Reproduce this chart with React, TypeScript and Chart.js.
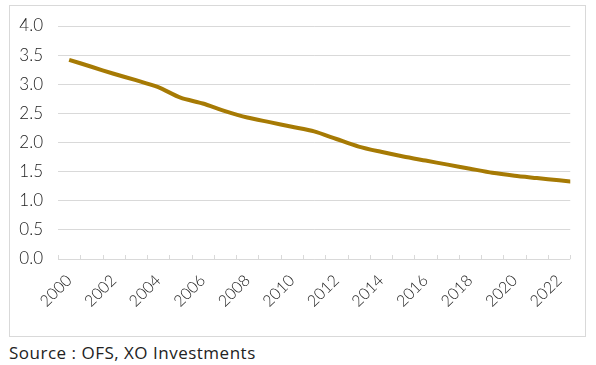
import React, { useEffect, useRef } from "react";
import { Chart, registerables } from "chart.js";

Chart.register(...registerables);

const years = [2000, 2001, 2002, 2003, 2004, 2005, 2006, 2007, 2008, 2009, 2010, 2011, 2012, 2013, 2014, 2015, 2016, 2017, 2018, 2019, 2020, 2021, 2022, 2023];
const values = [3.42, 3.30, 3.18, 3.07, 2.95, 2.77, 2.67, 2.54, 2.43, 2.35, 2.27, 2.19, 2.06, 1.93, 1.84, 1.76, 1.69, 1.62, 1.55, 1.48, 1.43, 1.39, 1.35, 1.31];
const labelYears = [2000, 2002, 2004, 2006, 2008, 2010, 2012, 2014, 2016, 2018, 2020, 2022];
const yTicks = [0, 0.5, 1, 1.5, 2, 2.5, 3, 3.5, 4];
const sourceText = "Source : OFS, XO Investments";

const LINE_COLOR = "#A67A04";
const GRID_COLOR = "#D9D9D9";
const FONT = "Lato, 'Open Sans', sans-serif";

const tickMarks = {
  id: "tickMarks",
  afterDatasetsDraw(chart: any) {
    const x = chart.scales.x;
    const y = chart.scales.y;
    const ctx = chart.ctx;
    const base = y.getPixelForValue(0);
    ctx.save();
    ctx.strokeStyle = GRID_COLOR;
    ctx.lineWidth = 1;
    for (let i = 0; i <= years.length - 1; i++) {
      const v = years[0] - 0.5 + i;
      if (v > x.max + 1e-6) break;
      const px = Math.round(x.getPixelForValue(v)) + 0.5;
      ctx.beginPath();
      ctx.moveTo(px, base);
      ctx.lineTo(px, base - 4);
      ctx.stroke();
    }
    ctx.restore();
  },
};

export default function App() {
  const ref = useRef<HTMLCanvasElement | null>(null);
  useEffect(() => {
    if (!ref.current) return;
    const chart = new Chart(ref.current, {
      type: "line",
      data: {
        datasets: [
          {
            data: years.map((yr, i) => ({ x: yr, y: values[i] })),
            borderColor: LINE_COLOR,
            borderWidth: 4,
            pointRadius: 0,
            tension: 0.25,
            fill: false,
            clip: 0,
          },
        ],
      },
      options: {
        animation: false,
        responsive: false,
        maintainAspectRatio: false,
        layout: { padding: { top: 20, right: 14, bottom: 0, left: 0 } },
        plugins: { legend: { display: false }, tooltip: { enabled: false } },
        scales: {
          x: {
            type: "linear",
            min: 1999.5,
            max: 2022.5,
            grid: { display: false, drawTicks: false },
            border: { display: false },
            afterBuildTicks: (scale: any) => {
              scale.ticks = labelYears.map((v) => ({ value: v }));
            },
            afterFit: (scale: any) => {
              scale.height = 77;
            },
            ticks: {
              autoSkip: false,
              minRotation: 45,
              maxRotation: 45,
              padding: 12,
              color: "#222222",
              font: { family: FONT, size: 16, weight: "300" },
              callback: (v: any) => String(v),
            },
          },
          y: {
            min: 0,
            max: 4,
            afterBuildTicks: (scale: any) => {
              scale.ticks = yTicks.map((v) => ({ value: v }));
            },
            afterFit: (scale: any) => {
              scale.width = 48;
              scale.paddingTop = 10;
              scale.paddingBottom = 10;
            },
            grid: { color: GRID_COLOR, lineWidth: 1, drawTicks: false },
            border: { display: false },
            ticks: {
              padding: 15,
              color: "#222222",
              font: { family: FONT, size: 17, weight: "300" },
              callback: (v: any) => Number(v).toFixed(1),
            },
          },
        },
      },
      plugins: [tickMarks],
    });
    return () => chart.destroy();
  }, []);

  return (
    <div style={{ position: "absolute", left: 0, top: 0, width: 596, height: 365, background: "#fff" }}>
      <div
        style={{
          position: "absolute",
          left: 9,
          top: 5,
          width: 575,
          height: 330,
          border: "1px solid #D9D9D9",
        }}
      >
        <canvas ref={ref} width={575} height={330} style={{ display: "block" }} />
      </div>
      <div
        style={{
          position: "absolute",
          left: 9,
          top: 341,
          fontFamily: "'Open Sans', sans-serif",
          fontSize: 17,
          letterSpacing: "0.5px",
          color: "#222222",
          whiteSpace: "nowrap",
        }}
      >
        {sourceText}
      </div>
    </div>
  );
}
